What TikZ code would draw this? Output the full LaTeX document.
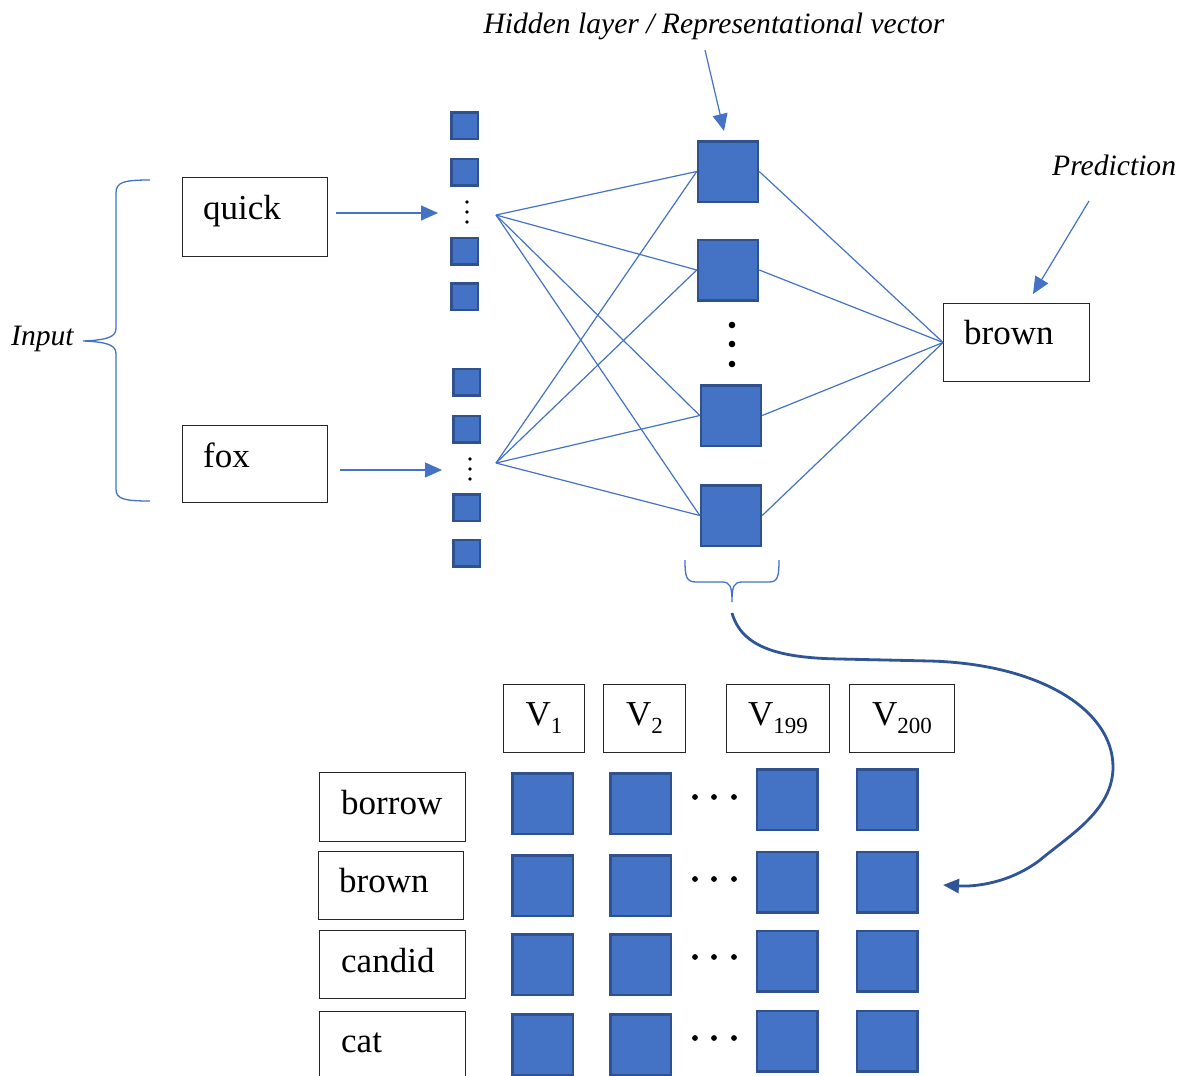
\documentclass[tikz,border=0pt]{standalone}
\usepackage{fontspec}
\setmainfont{Liberation Serif}
\usetikzlibrary{arrows.meta}
\definecolor{sqfill}{HTML}{4472C4}
\definecolor{sqedge}{HTML}{2F528F}
\definecolor{lnblue}{HTML}{4472C4}
\definecolor{curveblue}{HTML}{2F5597}
\begin{document}
\begin{tikzpicture}[x=1pt,y=-1pt,
  insq/.style={draw=sqedge,fill=sqfill,line width=2.5pt,inner sep=0pt,minimum width=26.5pt,minimum height=26.5pt},
  hsq/.style={draw=sqedge,fill=sqfill,line width=2.5pt,inner sep=0pt,minimum width=60pt,minimum height=60.5pt},
  tsq/.style={draw=sqedge,fill=sqfill,line width=2.5pt,inner sep=0pt,minimum width=60.5pt,minimum height=60.5pt},
  wbox/.style={draw=black!85,line width=1.3pt,inner sep=0pt},
  word/.style={font=\fontsize{35}{40}\selectfont,inner sep=0pt,anchor=base west},
  vlab/.style={wbox,font=\fontsize{35}{40}\selectfont,minimum height=67.5pt},
  ital/.style={font=\fontsize{29.6}{33}\selectfont\itshape,inner sep=0pt},
  conn/.style={draw=lnblue,line width=1.2pt},
  arr/.style={conn,-{Triangle[length=17pt,width=15pt]}},
  brace/.style={draw=lnblue,line width=1.3pt},
  dot/.style={fill=black}
]
\fill[white] (0,0) rectangle (1179,1076);
\useasboundingbox (0,0) rectangle (1179,1076);

% ---------- labels ----------
\node[ital,anchor=base] (hidlabel) at (714,33) {Hidden layer / Representational vector};
\node[ital,anchor=base west] (predlabel) at (1052,175) {Prediction};
\node[ital,anchor=base west] (inputlabel) at (11,345) {Input};

% ---------- input boxes ----------
\node[wbox,minimum width=144.5pt,minimum height=78.5pt] (quickbox) at (255,217) {};
\node[word] (quicktxt) at (203,219) {quick};
\node[wbox,minimum width=144.5pt,minimum height=76.5pt] (foxbox) at (255,464) {};
\node[word] (foxtxt) at (203,467) {fox};

% input brace
\draw[brace] (150,180) .. controls (124,180) and (116,182) .. (116,193) -- (116,328)
  .. controls (116,336) and (110,340) .. (83,341)
  .. controls (110,342) and (116,346) .. (116,354) -- (116,489)
  .. controls (116,499) and (124,501) .. (150,501);

% ---------- input vectors ----------
\node[insq] (q1) at (464.5,125.5) {};
\node[insq] (q2) at (464.5,172) {};
\node[insq] (q3) at (464.5,251) {};
\node[insq] (q4) at (464.5,296.5) {};
\fill[dot] (467,202) circle (1.8) (467,212) circle (1.8) (467,222) circle (1.8);

\node[insq] (f1) at (466.5,382) {};
\node[insq] (f2) at (466.5,429) {};
\node[insq] (f3) at (466.5,507.5) {};
\node[insq] (f4) at (466.5,553) {};
\fill[dot] (470,459) circle (1.8) (470,469) circle (1.8) (470,479) circle (1.8);

\coordinate (qtip) at (438,213);
\coordinate (ftip) at (442,470);
\draw[arr] ([shift={(8,-4)}]quickbox.east) -- (qtip);
\draw[arr] ([shift={(12,6)}]foxbox.east) -- (ftip);

% ---------- hidden layer ----------
\node[hsq] (h1) at (728,171.5) {};
\node[hsq] (h2) at (728,270) {};
\node[hsq] (h3) at (731,415.5) {};
\node[hsq] (h4) at (731,515.5) {};
\fill[dot] (732,325) circle (3.3) (732,344) circle (3.3) (732,364) circle (3.3);

\coordinate (qfan) at (496,215);
\coordinate (ffan) at (496,463);
\foreach \h in {h1,h2,h3,h4} {
  \draw[conn] (qfan) -- (\h.west);
  \draw[conn] (ffan) -- (\h.west);
}

% ---------- output ----------
\node[wbox,minimum width=145.5pt,minimum height=77.5pt] (brownbox) at (1016.5,342.5) {};
\node[word] (browntxt) at (964,344) {brown};
\foreach \h in {h1,h2,h3,h4} {
  \draw[conn] (\h.east) -- (brownbox.west);
}

% arrows from labels
\coordinate (hs) at (705,50);
\coordinate (he) at (724,131);
\draw[arr] (hs) -- (he);
\coordinate (ps) at (1089,201);
\coordinate (pe) at (1033,294);
\draw[arr] (ps) -- (pe);

% hidden brace
\draw[brace] (685,560) .. controls (685,576) and (686,582) .. (696,582) -- (722,582)
  .. controls (730,582) and (732,586) .. (732,602)
  .. controls (732,586) and (734,582) .. (742,582) -- (769,582)
  .. controls (778,582) and (779,576) .. (779,560);

% curved arrow
\coordinate (cstart) at (732,613);
\coordinate (cend) at (943,885);
\draw[draw=curveblue,line width=2.8pt,-{Triangle[length=16pt,width=14pt]}]
  (cstart) .. controls (742,648) and (780,658) .. (840,659) -- (930,661)
  .. controls (1040,664) and (1113,710) .. (1113,767)
  .. controls (1113,810) and (1070,835) .. (1040,860)
  .. controls (1010,883) and (975,887) .. (cend);

% ---------- table ----------
\node[vlab,minimum width=80.5pt] (v1) at (544,718.5) {V\raisebox{-8pt}{\fontsize{23}{23}\selectfont 1}};
\node[vlab,minimum width=81.5pt] (v2) at (644.5,718.5) {V\raisebox{-8pt}{\fontsize{23}{23}\selectfont 2}};
\node[vlab,minimum width=102.5pt] (v199) at (778,718.5) {V\raisebox{-8pt}{\fontsize{23}{23}\selectfont 199}};
\node[vlab,minimum width=104.5pt] (v200) at (902,718.5) {V\raisebox{-8pt}{\fontsize{23}{23}\selectfont 200}};

\node[wbox,minimum width=145.5pt,minimum height=68.5pt] (rb1) at (392.5,807) {};
\node[word] (rt1) at (341,814) {borrow};
\node[wbox,minimum width=144.5pt,minimum height=67.5pt] (rb2) at (391,885.5) {};
\node[word] (rt2) at (339,892) {brown};
\node[wbox,minimum width=145.5pt,minimum height=67.5pt] (rb3) at (392.5,964.5) {};
\node[word] (rt3) at (341,972) {candid};
\node[wbox,minimum width=145.5pt,minimum height=68.5pt] (rb4) at (392.5,1046) {};
\node[word] (rt4) at (341,1052) {cat};

% squares: columns 1,2
\foreach \r/\y in {1/803.5,2/885.5,3/964.5,4/1044.5} {
  \node[tsq] (s\r a) at (542.5,\y) {};
  \node[tsq] (s\r b) at (640.5,\y) {};
}
% columns 199,200
\foreach \r/\y in {1/799.5,2/882,3/961,4/1041} {
  \node[tsq] (s\r c) at (787,\y) {};
  \node[tsq] (s\r d) at (887,\y) {};
}
% dots
\foreach \y in {797,879,957,1038} {
  \fill[dot] (695,\y) circle (2.9) (714,\y) circle (2.9) (734,\y) circle (2.9);
}
\end{tikzpicture}
\end{document}
